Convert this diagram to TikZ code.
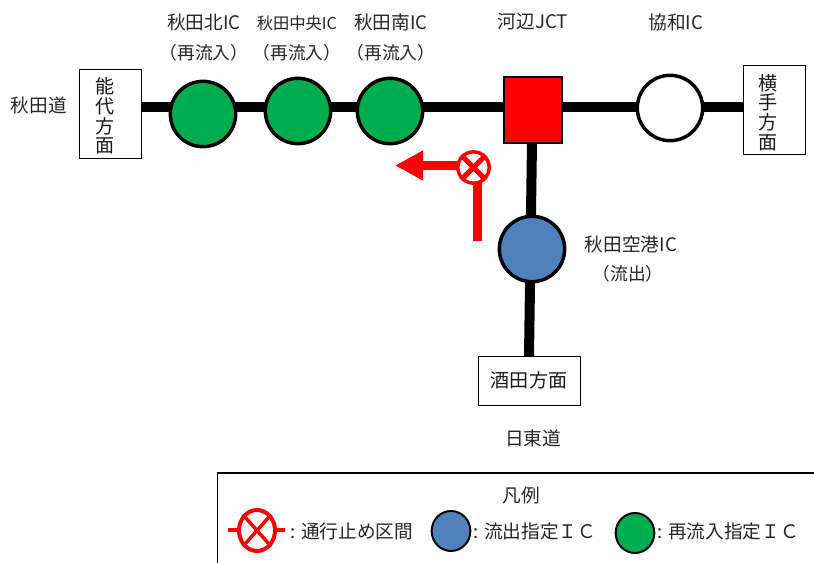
\documentclass[tikz,border=0pt]{standalone}
\usepackage{fontspec}
\setmainfont{Noto Sans CJK JP}
\usetikzlibrary{arrows.meta,shapes.geometric}
\definecolor{ggreen}{HTML}{00AD4E}
\definecolor{bblue}{HTML}{4F81BD}
\tikzset{
 x=0.75pt,y=-0.75pt,
 road/.style={line width=7.5pt,black},
 ic/.style={circle,draw=black,line width=2.6pt,minimum size=49pt,inner sep=0pt},
 dirbox/.style={draw=black,fill=white,line width=0.7pt,inner sep=0pt},
 dirtext/.style={inner sep=0pt,align=center,text=black!90,font=\fontsize{14.3pt}{14.7pt}\selectfont},
 lab/.style={inner sep=0pt,font=\fontsize{14pt}{16pt}\selectfont,text=black!85},
 labp/.style={inner sep=0pt,font=\fontsize{13.3pt}{15pt}\selectfont,text=black!85},
 labs/.style={inner sep=0pt,font=\fontsize{12.2pt}{14pt}\selectfont,text=black!85},
 redl/.style={draw=red,line width=7pt},
 leg/.style={inner sep=0pt,anchor=west,font=\fontsize{14pt}{16pt}\selectfont,text=black!85},
}
\begin{document}
\begin{tikzpicture}
\useasboundingbox (0,0) rectangle (814,563);
% direction boxes
\node[dirbox,minimum width=46.5pt,minimum height=66.75pt] (noshiro) at (110.5,113.5) {};
\node[dirtext] at (105,116) {能\\代\\方\\面};
\node[dirbox,minimum width=46.5pt,minimum height=66.75pt] (yokote) at (774,109.5) {};
\node[dirtext] at (768,112.5) {横\\手\\方\\面};
\node[dirbox,minimum width=76.5pt,minimum height=36.75pt] (sakata) at (529,380.5) {};
\node[dirtext] at (529,380.5) {酒田方面};
% roads
\draw[road] (noshiro.east |- 0,107.5) -- (yokote.west |- 0,107.5);
\coordinate (jctS) at (532,142);
\coordinate (sakataN) at (529,356);
\draw[road] (jctS) -- (sakataN);
% interchanges
\node[ic,fill=ggreen] (kita) at (203,114) {};
\node[ic,fill=ggreen] (chuo) at (298,111) {};
\node[ic,fill=ggreen] (minami) at (390,111) {};
\node[draw=black,fill=red,line width=2.2pt,minimum width=43.5pt,minimum height=49.5pt,inner sep=0pt] (jct) at (533,110) {};
\node[ic,fill=white] (kyowa) at (670,108) {};
\node[ic,fill=bblue] (airport) at (532,249) {};
% labels
\node[lab] (akitado) at (39,105) {秋田道};
\node[lab] at (204,22) {秋田北IC};
\node[labp] at (204,53) {（再流入）};
\node[labs] at (297,23) {秋田中央IC};
\node[labp] at (297,53) {（再流入）};
\node[lab] at (391,22) {秋田南IC};
\node[labp] at (391,53) {（再流入）};
\node[lab] at (533,22) {河辺JCT};
\node[lab] at (676,22) {協和IC};
\node[lab] at (631,244) {秋田空港IC};
\node[labp] at (628,274) {（流出）};
\node[lab] at (533,438) {日東道};
% closure
\coordinate (redS) at (477.5,241);
\coordinate (redC) at (477.5,168);
\coordinate (redA) at (460,165.5);
\coordinate (tip) at (395,165.5);
\draw[redl] (redS) -- (redC);
\draw[redl,-{Triangle[length=21pt,width=21pt]}] (redA) -- (tip);
\node[circle,draw=red,fill=white,line width=2.6pt,minimum size=23.5pt,inner sep=0pt] (stop) at (473.5,167.5) {};
\draw[red,line width=3.8pt] (stop.north west) -- (stop.south east) (stop.north east) -- (stop.south west);
% legend
\node[draw=black,line width=1.2pt,minimum width=600pt,minimum height=90pt,anchor=north west,inner sep=0pt] (legend) at (216.5,472) {};
\node[lab] at (521,495) {凡例};
\coordinate (lw) at (228,530);
\coordinate (le) at (285,530);
\draw[red,line width=3pt] (lw) -- (le);
\node[ellipse,draw=red,fill=white,line width=3pt,minimum width=27pt,minimum height=30.75pt,inner sep=0pt] (legstop) at (257,530.5) {};
\draw[red,line width=2.6pt] (legstop.north west) -- (legstop.south east) (legstop.north east) -- (legstop.south west);
\node[leg] at (290,531) {: 通行止め区間};
\node[ellipse,draw=black,fill=bblue,line width=1.5pt,minimum width=29pt,minimum height=30pt,inner sep=0pt] (legblue) at (451,531) {};
\node[leg] at (473,531) {: 流出指定ＩＣ};
\node[ellipse,draw=black,fill=ggreen,line width=1.5pt,minimum width=29pt,minimum height=30pt,inner sep=0pt] (leggreen) at (635,533) {};
\node[leg] at (657,531) {: 再流入指定ＩＣ};
\end{tikzpicture}
\end{document}
